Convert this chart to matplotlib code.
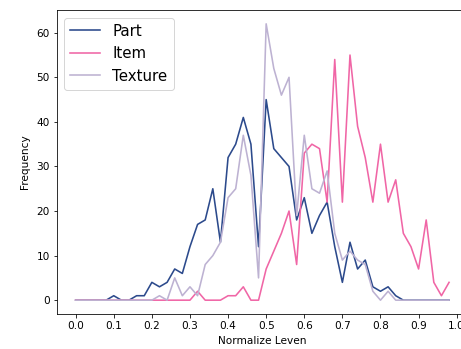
import matplotlib
matplotlib.use('Agg')
import matplotlib.pyplot as plt
import numpy as np

# normalized levenshtein bins (step 0.02)
bins = np.round(np.arange(0, 1.0, 0.02), 2)

part = [0, 0, 0, 0, 0, 1, 0, 0, 1, 1, 4, 3, 4, 7, 6, 12, 17, 18, 25, 13,
        32, 35, 41, 35, 12, 45, 34, 32, 30, 18, 23, 15, 19, 22, 12, 4, 13, 7, 9, 3,
        2, 3, 1, 0, 0, 0, 0, 0, 0, 0]
item = [0, 0, 0, 0, 0, 0, 0, 0, 0, 0, 0, 0, 0, 0, 0, 0, 2, 0, 0, 0,
        1, 1, 3, 0, 0, 7, 11, 15, 20, 8, 33, 35, 34, 22, 54, 22, 55, 39, 32, 22,
        35, 22, 27, 15, 12, 7, 18, 4, 1, 4]
texture = [0, 0, 0, 0, 0, 0, 0, 0, 0, 0, 0, 1, 0, 5, 1, 3, 1, 8, 10, 13,
           23, 25, 37, 28, 5, 62, 52, 46, 50, 19, 37, 25, 24, 29, 15, 9, 11, 9, 8, 2,
           0, 2, 0, 0, 0, 0, 0, 0, 0, 0]

styles = {
    'Part': {'color': '#2c4a8c'},
    'Item': {'color': '#f066a6'},
    'Texture': {'color': '#bdb2d2'},
}

plt.rcParams['font.size'] = 10.5

fig = plt.figure(figsize=(461 / 72, 349 / 72), dpi=72)
ax = fig.add_axes([0.1236, 0.1003, 0.891, 0.871])

ax.plot(bins, part, label='Part', lw=1.6, **styles['Part'])
ax.plot(bins, item, label='Item', lw=1.6, **styles['Item'])
ax.plot(bins, texture, label='Texture', lw=1.6, **styles['Texture'])

ax.set_xticks(np.round(np.arange(0, 1.01, 0.1), 1))
ax.set_xlabel('Normalize Leven', labelpad=5)
ax.set_ylabel('Frequency', labelpad=6)
ax.legend(loc='upper left', fontsize=15)

fig.savefig('out.png', dpi=72)
